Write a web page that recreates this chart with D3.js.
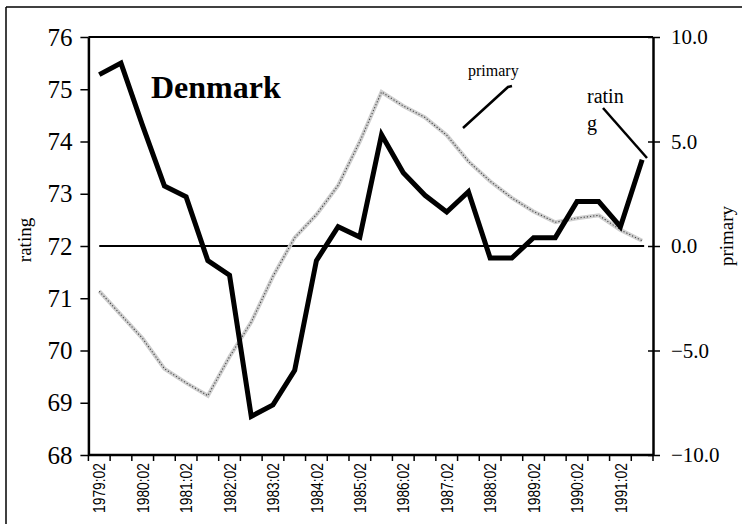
<!DOCTYPE html>
<html>
<head>
<meta charset="utf-8">
<script src="https://cdn.jsdelivr.net/npm/d3@7"></script>
<style>
  html, body { margin: 0; padding: 0; background: #fff; }
  svg { display: block; }
</style>
</head>
<body>
<svg id="chart" width="742" height="524"></svg>
<script>
// ---- data ----
const categories = ["1979:02","1979:04","1980:02","1980:04","1981:02","1981:04","1982:02","1982:04",
  "1983:02","1983:04","1984:02","1984:04","1985:02","1985:04","1986:02","1986:04","1987:02","1987:04",
  "1988:02","1988:04","1989:02","1989:04","1990:02","1990:04","1991:02","1991:04"];
const tickLabels = ["1979:02","1980:02","1981:02","1982:02","1983:02","1984:02","1985:02","1986:02",
  "1987:02","1988:02","1989:02","1990:02","1991:02"];
const rating = [75.28, 75.50, 74.30, 73.15, 72.94, 71.72, 71.44, 68.74, 68.96, 69.62, 71.72, 72.37, 72.17,
  74.13, 73.40, 72.97, 72.65, 73.04, 71.77, 71.77, 72.16, 72.16, 72.85, 72.85, 72.37, 73.65];
const primary = [-2.16, -3.30, -4.43, -5.87, -6.55, -7.16, -5.30, -3.64, -1.45, 0.40, 1.50, 2.90, 5.00,
  7.37, 6.70, 6.15, 5.30, 4.05, 3.10, 2.30, 1.65, 1.14, 1.33, 1.47, 0.77, 0.25];
const leftTicks = [68, 69, 70, 71, 72, 73, 74, 75, 76];
const rightTicks = [-10, -5, 0, 5, 10];
const baseline = 72;

// ---- layout ----
const svg = d3.select("#chart");
const L = 88.4, R = 653, T = 37, B = 455;
const serif = "'Liberation Serif','Times New Roman',serif";
const sans = "'Liberation Sans',Arial,sans-serif";

const x = d3.scaleBand().domain(categories).range([L, R]).paddingInner(0).paddingOuter(0);
const yL = d3.scaleLinear().domain([68, 76]).range([B, T]);
const yR = d3.scaleLinear().domain([-10, 10]).range([B, T]);
const cx = c => x(c) + x.bandwidth() / 2;

// outer frame (top and left edges)
svg.append("line").attr("x1", 6).attr("x2", 742).attr("y1", 7).attr("y2", 7)
  .attr("stroke", "#000").attr("stroke-width", 1.5);
svg.append("line").attr("x1", 6).attr("x2", 6).attr("y1", 7).attr("y2", 524)
  .attr("stroke", "#000").attr("stroke-width", 1.5);

// plot top border
svg.append("line").attr("x1", L).attr("x2", R).attr("y1", T).attr("y2", T)
  .attr("stroke", "#000").attr("stroke-width", 2);

// left axis
const gL = svg.append("g").attr("transform", `translate(${L},0)`)
  .call(d3.axisLeft(yL).tickValues(leftTicks).tickFormat(d3.format("d")).tickSize(8).tickSizeOuter(0).tickPadding(8));
gL.select(".domain").attr("stroke-width", 2.5);
gL.selectAll(".tick line").attr("stroke-width", 1.5);
gL.selectAll("text").attr("font-family", serif).attr("font-size", 25).attr("fill", "#000");

// right axis (ticks cross the axis)
const gR = svg.append("g").attr("transform", `translate(${R},0)`)
  .call(d3.axisRight(yR).tickValues(rightTicks).tickFormat(d3.format(".1f")).tickSize(7).tickSizeOuter(0).tickPadding(11));
gR.select(".domain").attr("stroke-width", 2.5);
gR.selectAll(".tick line").attr("x1", -5).attr("stroke-width", 1.5);
gR.selectAll("text").attr("font-family", serif).attr("font-size", 21).attr("fill", "#000");

// bottom axis: ticks at category boundaries
const gB = svg.append("g").attr("transform", `translate(0,${B})`);
gB.append("line").attr("x1", L).attr("x2", R).attr("stroke", "#000").attr("stroke-width", 2.5);
const boundaries = categories.map(c => x(c)).concat([R]);
gB.selectAll("line.tk").data(boundaries).join("line").attr("class", "tk")
  .attr("x1", d => d).attr("x2", d => d).attr("y1", 0).attr("y2", 6)
  .attr("stroke", "#000").attr("stroke-width", 1.5);
gB.selectAll("text").data(tickLabels).join("text")
  .attr("transform", d => `translate(${cx(d)},${8}) rotate(-90)`)
  .attr("text-anchor", "end").attr("dy", "0.36em")
  .attr("font-family", sans).attr("font-size", 17)
  .attr("textLength", 50).attr("lengthAdjust", "spacingAndGlyphs")
  .attr("fill", "#000").text(d => d);

// axis titles
svg.append("text").attr("transform", `translate(31,${240}) rotate(-90)`)
  .attr("text-anchor", "middle").attr("font-family", serif).attr("font-size", 19).text("rating");
svg.append("text").attr("transform", `translate(733,${236}) rotate(-90)`)
  .attr("text-anchor", "middle").attr("font-family", serif).attr("font-size", 19).text("primary");

// baseline (72 / 0.0)
svg.append("line").attr("x1", cx(categories[0])).attr("x2", cx(categories[categories.length - 1]) + 2)
  .attr("y1", yL(baseline)).attr("y2", yL(baseline)).attr("stroke", "#000").attr("stroke-width", 2);

// primary line (grey dotted double)
const linePrim = d3.line().x((d, i) => cx(categories[i])).y(d => yR(d));
svg.append("path").datum(primary).attr("d", linePrim).attr("fill", "none")
  .attr("stroke", "#cfcfcf").attr("stroke-width", 4);
svg.append("path").datum(primary).attr("d", linePrim).attr("fill", "none")
  .attr("stroke", "#444").attr("stroke-width", 1.1).attr("stroke-dasharray", "1.2,2");

// rating line (thick black)
const lineRat = d3.line().x((d, i) => cx(categories[i])).y(d => yL(d));
svg.append("path").datum(rating).attr("d", lineRat).attr("fill", "none")
  .attr("stroke", "#000").attr("stroke-width", 5).attr("stroke-linejoin", "miter");

// title
svg.append("text").attr("x", 151).attr("y", 98).attr("font-family", serif)
  .attr("font-weight", "bold").attr("font-size", 32).text("Denmark");

// annotations
svg.append("text").attr("x", 468).attr("y", 76).attr("font-family", serif).attr("font-size", 16).text("primary");
svg.append("path").attr("d", "M463,128 L508,87 L512,86").attr("fill", "none")
  .attr("stroke", "#000").attr("stroke-width", 2.5);
svg.append("text").attr("x", 587).attr("y", 103).attr("font-family", serif).attr("font-size", 20).text("ratin");
svg.append("text").attr("x", 587).attr("y", 130).attr("font-family", serif).attr("font-size", 20).text("g");
svg.append("line").attr("x1", 603).attr("y1", 108).attr("x2", 647).attr("y2", 158)
  .attr("stroke", "#000").attr("stroke-width", 2.5);
</script>
</body>
</html>
